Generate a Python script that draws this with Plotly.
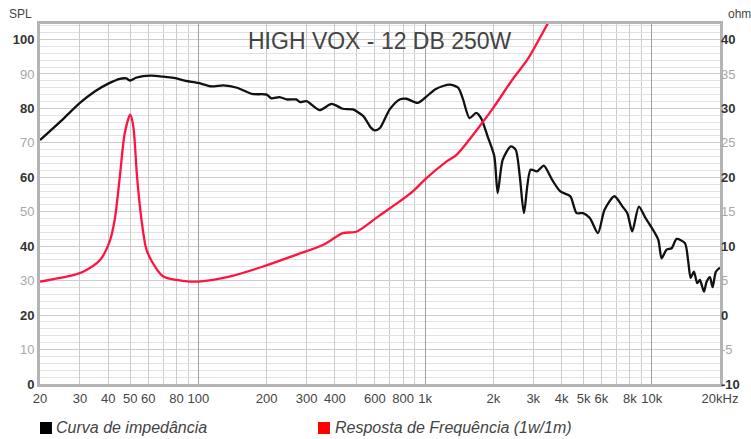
import math
import plotly.graph_objects as go

# ---------------- data ----------------
# black curve (left axis, SPL dB)
spl_freq = [20, 25, 30, 35, 40, 45, 48, 50, 53, 57, 62, 70, 77, 88, 100, 114, 129, 148, 172, 200,
            210, 228, 245, 270, 281, 300, 342, 387, 433, 480, 535, 575, 600, 632, 698, 772, 826,
            927, 1000, 1106, 1200, 1286, 1400, 1470, 1570, 1680, 1765, 1887, 2020, 2090, 2200,
            2390, 2510, 2620, 2730, 2920, 3120, 3340, 3630, 3950, 4370, 4660, 4980, 5330, 5790,
            6190, 6840, 7430, 7800, 8200, 8770, 9380, 9814, 10678, 11052, 11630, 12234, 12872,
            14004, 14482, 14840, 15346, 15866, 16308, 16986, 17456, 18050, 18552, 19182, 20000]
spl_db = [70.8, 76.6, 81.6, 85.0, 87.2, 88.6, 88.7, 88.1, 88.9, 89.4, 89.5, 89.2, 88.9, 88.0, 87.4,
          86.4, 86.7, 86.0, 84.2, 84.0, 82.9, 83.3, 82.6, 82.6, 81.8, 82.1, 79.5, 81.3, 79.9, 79.7,
          77.7, 74.5, 73.6, 74.3, 79.7, 82.6, 82.8, 81.6, 83.1, 85.5, 86.5, 86.9, 86.0, 82.6, 77.2,
          78.7, 77.2, 71.9, 66.1, 55.4, 65.1, 69.0, 68.0, 60.0, 49.6, 62.2, 61.7, 63.4, 59.3, 55.9,
          54.5, 49.6, 49.6, 48.2, 43.8, 50.6, 54.5, 51.5, 49.6, 44.3, 51.5, 48.2, 46.2, 41.9, 36.5,
          39.0, 39.4, 42.1, 40.9, 35.6, 30.8, 32.6, 29.3, 30.2, 26.8, 29.7, 31.0, 28.1, 32.6, 33.8]

# red curve (right axis, ohm)
z_freq = [20, 28, 31, 36.8, 40.6, 42.7, 45, 47.3, 50, 51.6, 53.6, 56.1, 59, 64.3, 70, 80, 91.5,
          100, 137, 193, 270, 356, 433, 497, 620, 772, 886, 1000, 1245, 1380, 1740, 2020, 2430,
          2830, 3500, 4000]
z_ohm = [4.85, 5.8, 6.3, 8.0, 10.7, 13.8, 20.1, 26.4, 29.1, 27.4, 20.1, 13.8, 9.5, 7.05, 5.6, 5.1,
         4.87, 4.87, 5.6, 7.05, 8.75, 10.2, 11.9, 12.1, 14.3, 16.5, 18.0, 19.7, 22.3, 23.3, 27.4,
         30.3, 34.2, 37.1, 42.5, 46.0]

x_labeled = [20, 30, 40, 50, 60, 80, 100, 200, 300, 400, 600, 800, 1000, 2000, 3000, 4000,
             5000, 6000, 8000, 10000, 20000]
x_labels = ["20", "30", "40", "50", "60", "80", "100", "200", "300", "400", "600", "800", "1k",
            "2k", "3k", "4k", "5k", "6k", "8k", "10k", "20kHz"]
x_unlabeled = [70, 90, 500, 700, 900, 7000, 9000]
x_decades = [100, 1000, 10000]

spl_ticks = list(range(0, 101, 10))
ohm_ticks = list(range(-10, 41, 5))

DARK = "#333333"
LIGHT = "#a8a8a8"


def styled(vals):
    out = []
    for i, v in enumerate(vals):
        if i % 2 == 0:
            out.append(f"<b>{v}</b>")
        else:
            out.append(f"<span style='color:{LIGHT}'>{v}</span>")
    return out


spl_text = styled(spl_ticks)
ohm_text = styled(ohm_ticks)

FONT = "Liberation Sans, Arial, sans-serif"

fig = go.Figure()
fig.add_trace(go.Scatter(x=spl_freq, y=spl_db, mode="lines", xaxis="x", yaxis="y",
                         line=dict(color="#111111", width=2.3, shape="spline", smoothing=0.7),
                         showlegend=False, name="SPL"))
fig.add_trace(go.Scatter(x=z_freq, y=z_ohm, mode="lines", xaxis="x2", yaxis="y2",
                         line=dict(color="#ff1440", width=2.3, shape="spline", smoothing=0.8),
                         showlegend=False, name="ohm"))

xr = [math.log10(20), math.log10(20000)]
fig.update_layout(
    width=751, height=439,
    margin=dict(l=40, r=31, t=24, b=55, autoexpand=False),
    paper_bgcolor="white", plot_bgcolor="white",
    font=dict(family=FONT, size=13, color=DARK),
    xaxis=dict(type="log", range=xr, tickmode="array", tickvals=x_labeled, ticktext=x_labels,
               automargin=False,
               showgrid=True, gridcolor="#cccccc", gridwidth=1,
               minor=dict(tickmode="array", tickvals=x_unlabeled, showgrid=True,
                          gridcolor="#cccccc", gridwidth=1, ticks=""),
               showline=True, linecolor="#b4b4b4", linewidth=3, mirror=True,
               ticks="", tickfont=dict(size=13, color="#444444"), zeroline=False),
    xaxis2=dict(type="log", range=xr, overlaying="x", tickmode="array", tickvals=x_decades,
                automargin=False,
                showgrid=True, gridcolor="#a0a0a0", gridwidth=1, showticklabels=False,
                ticks="", zeroline=False, showline=False),
    yaxis=dict(range=[0, 104.5], tickmode="array", tickvals=spl_ticks, ticktext=spl_text,
               automargin=False,
               showgrid=True, gridcolor="#cccccc", gridwidth=1,
               minor=dict(dtick=2, tick0=0, showgrid=True, gridcolor="#e2e2e2", gridwidth=1),
               showline=True, linecolor="#b4b4b4", linewidth=3, mirror=True,
               ticks="", tickfont=dict(size=13, color=DARK), zeroline=False),
    yaxis2=dict(range=[-10, 42.25], overlaying="y", anchor="x2", side="right", tickmode="array",
                automargin=False,
                tickvals=ohm_ticks, ticktext=ohm_text, showgrid=False, zeroline=False,
                ticks="", tickfont=dict(size=13, color=DARK), showline=False),
    showlegend=False,
)

annotations = [
    dict(text="HIGH VOX - 12 DB 250W", x=0.5, y=0.954, xref="paper", yref="paper",
         showarrow=False, xanchor="center", yanchor="middle",
         font=dict(size=23, color="#444444", family=FONT)),
    dict(text="SPL", x=-0.029, y=1.028, xref="paper", yref="paper", showarrow=False,
         xanchor="center", yanchor="middle", font=dict(size=12, color="#444444", family=FONT)),
    dict(text="ohm", x=1.028, y=1.028, xref="paper", yref="paper", showarrow=False,
         xanchor="center", yanchor="middle", font=dict(size=12, color="#444444", family=FONT)),
    dict(text="<i>Curva de impedância</i>", x=0.021, y=-0.122, xref="paper", yref="paper",
         showarrow=False, xanchor="left", yanchor="middle",
         font=dict(size=16, color="#444444", family=FONT)),
    dict(text="<i>Resposta de Frequência (1w/1m)</i>", x=0.431, y=-0.122, xref="paper",
         yref="paper", showarrow=False, xanchor="left", yanchor="middle",
         font=dict(size=16, color="#444444", family=FONT)),
]
fig.update_layout(annotations=annotations)

fig.add_shape(type="rect", xref="paper", yref="paper", x0=0.0, x1=0.0176, y0=-0.1389, y1=-0.1056,
              fillcolor="#000000", line=dict(width=0))
fig.add_shape(type="rect", xref="paper", yref="paper", x0=0.4088, x1=0.4265, y0=-0.1389,
              y1=-0.1056, fillcolor="#ff0000", line=dict(width=0))

fig.write_html("out.html", config={"displayModeBar": False},
               post_script="document.body.style.margin='0';document.body.style.overflow='hidden';")
